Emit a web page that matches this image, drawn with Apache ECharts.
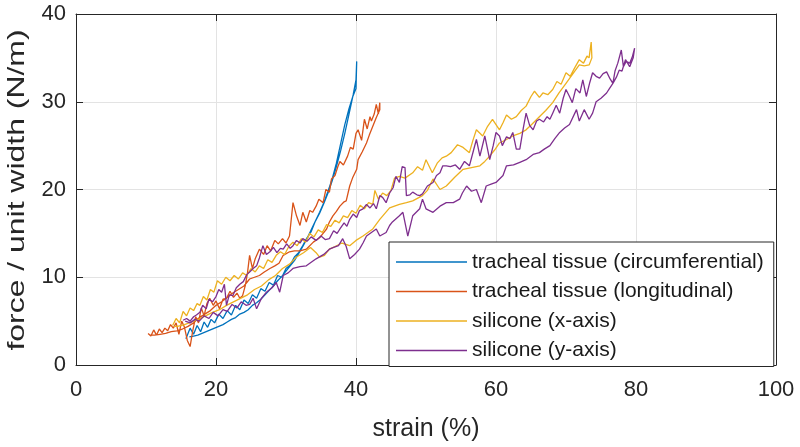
<!DOCTYPE html>
<html>
<head>
<meta charset="utf-8">
<script src="https://cdn.jsdelivr.net/npm/echarts@6/dist/echarts.min.js"></script>
<style>html,body{margin:0;padding:0;background:#fff;}#c{width:800px;height:447px;}</style>
</head>
<body>
<div id="c"></div>
<script>
// ---- data (strain %, force N/m), loading branch then unloading branch ----
const seriesNames = ['tracheal tissue (circumferential)', 'tracheal tissue (longitudinal)', 'silicone (x-axis)', 'silicone (y-axis)'];
const xTicks = [0, 20, 40, 60, 80, 100];
const yTicks = [0, 10, 20, 30, 40];

const circStrain = [15.7,16.3,16.8,17.3,17.8,18.3,18.8,19.3,19.8,20.4,21,21.6,22.2,22.8,23.4,24,24.6,25.2,25.8,26.4,27,27.6,28.2,28.8,29.4,30,30.6,31.2,31.8,32.4,33,33.6,34.2,34.8,35.4,36,36.6,37.2,37.8,38.4,39,39.6,40.0,40.1,
  40.0,39.5,39.0,38.4,37.8,37.2,36.6,36,35.4,34.8,34.2,33.6,33,32.4,31.8,31.2,30.6,30,29.4,28.8,28.2,27.6,27,26.4,25.8,25.2,24.6,24,23.4,22.8,22.2,21.6,21,20.4,19.8,19.2,18.6,18,17.4,16.8,16.2];
const circForce = [3.0,4.2,3.5,4.5,3.8,4.9,4.3,5.2,4.8,5.8,5.3,6.2,5.7,6.8,6.3,7.4,7.0,8.0,7.6,8.7,8.4,9.4,9.1,10.2,10.0,11.0,11.4,12.3,12.8,13.6,14.5,15.2,16.4,17.3,18.4,19.6,21.0,22.6,24.4,26.4,28.6,30.8,32.5,34.6,
  31.5,30.5,29.2,27.4,25.2,23.0,21.2,19.8,18.5,17.4,16.4,15.4,14.4,13.5,12.7,11.9,11.3,10.7,10.1,9.6,9.0,8.5,8.0,7.5,7.1,6.8,6.3,6.0,5.8,5.4,5.2,4.9,4.6,4.4,4.2,4.0,3.8,3.6,3.4,3.3,3.2];

const longStrain = [10.3,10.7,11.1,11.5,11.9,12.3,12.7,13.1,13.5,13.9,14.3,14.7,15.1,15.5,15.9,16.3,16.7,17.1,17.5,17.9,18.3,18.7,19.1,19.6,20.0,20.5,21.0,21.5,22.0,22.5,23.0,23.4,23.8,24.2,24.5,24.8,25.2,25.6,26.2,26.8,27.3,27.8,28.4,28.9,29.5,30.0,30.5,31.0,31.5,32.0,32.4,32.9,33.4,33.8,34.3,34.7,35.3,35.7,36.2,36.5,37.0,37.4,37.7,38.2,38.8,39.2,39.6,40.0,40.3,40.8,41.2,41.6,42.0,42.2,42.6,42.9,43.2,43.4,
  43.4,42.9,42.4,41.9,41.5,40.9,40.3,40.1,39.5,39.1,38.6,38.3,37.7,37.2,36.7,36.2,35.8,35.3,34.8,33.9,32.9,32.0,31.2,30.5,29.6,29.0,28.4,27.7,26.9,26.2,25.5,24.8,24.0,23.2,22.4,21.6,20.8,20.0,19.2,18.4,17.6,16.8,16.0,15.2,14.4,13.6,12.8,12.0,11.2,10.5];
const longForce = [3.6,3.3,4.0,3.4,4.1,3.7,4.2,3.9,4.6,4.2,4.8,3.5,5.0,4.3,2.8,2.1,4.0,5.5,4.8,6.5,5.6,7.0,7.6,6.8,7.3,6.4,7.5,7.6,8.4,7.7,8.2,7.6,7.9,9.1,10.5,12.5,11.0,12.1,13.2,12.6,13.6,13.0,14.2,13.8,14.4,13.9,14.7,18.5,17.0,15.9,17.4,16.3,17.6,17.4,18.1,18.9,18.5,20.0,19.7,21.2,21.6,22.6,23.2,22.8,23.8,24.8,24.6,26.4,26.8,25.6,28.0,26.9,28.3,27.8,28.6,29.7,28.6,29.9,
  29.1,28.2,27.2,26.2,25.3,24.3,23.4,22.3,21.3,20.4,18.7,18.6,18.1,17.5,17.0,16.3,15.5,15.0,14.5,14.0,13.2,13.0,13.0,12.9,12.5,11.6,11.3,11.0,10.6,10.2,10.0,9.8,9.0,8.6,8.2,7.7,7.2,6.8,6.2,5.8,5.4,4.8,4.4,4.1,3.9,3.8,3.6,3.5,3.4,3.4];

const sxStrain = [13.8,14.3,14.8,15.3,15.8,16.3,16.8,17.3,17.7,18.2,18.7,19.2,19.7,20.2,20.8,21.4,22,22.6,23.2,23.8,24.4,25,25.6,26.2,26.8,27.4,28,28.6,29.2,29.8,30.4,31,31.6,32.2,32.8,33.4,34,34.6,35.2,35.8,36.4,37,37.6,38.2,38.8,39.4,40,40.6,41.2,41.8,42.4,42.7,43.2,43.8,44.4,45.0,45.5,46.2,47,48.1,48.8,49.5,50,50.9,51.6,52.3,52.9,53.6,54.5,55.3,56.2,56.7,57.2,58.1,58.8,59.5,60.5,61,61.5,62.2,62.9,63.6,64.3,65,65.5,66.2,66.7,67.4,68.1,68.7,69.3,70,70.6,71.2,71.9,72.5,73,73.3,73.6,
  73.7,73.3,72.6,71.9,71,70,69,68.1,67.1,66.2,65.2,64.3,63.4,62.4,61.5,60.5,59.8,59.1,58.4,57.7,56.5,55.3,54.1,52.9,52,51,50.2,49.5,48.1,47.2,46.2,44.8,43.4,42.4,41,40,39.1,38,37,36.2,35.5,34.8,34.3,33.5,32.5,31.5,30.5,29.5,28.5,27.5,26.5,25.5,24.5,23.5,22.5,21.5,20.5,19.5,18.5,17.5,16.5,15.5,14.5,14];
const sxForce = [4.5,5.3,4.8,6.1,5.6,6.5,6.2,7.0,6.8,7.8,7.4,8.6,8.3,9.6,9.2,10.0,9.6,10.2,9.8,10.5,10.2,11,10.6,11.3,11,12,11.7,12.5,12.9,12.6,13.5,14,13.6,14.4,14,15,14.6,15.4,15.1,16,15.8,16.5,16.2,17,16.8,17.6,17.3,18.2,17.8,18.5,18.3,19.9,18.9,19.6,19.3,19.9,21.3,21.5,21.3,21.9,22.6,22.2,23.4,21.9,23,23.6,23.8,24.2,25.1,24.8,24.2,25.6,26.8,26.1,27.2,28,26.8,27.6,28.5,28,28.3,29,29.5,30.6,31.2,30.5,31,30.8,31.4,32.3,32,33.3,32.9,33.8,34.8,34.4,35.2,35,36.8,
  35,34.2,34.1,34.2,33.2,32.1,31,29.9,29,28.3,27.5,26.8,26.4,26.1,25.7,25.3,24.5,23.8,23.2,22.7,22.5,22.3,21.4,20.4,20,21.2,19.9,19.3,18.7,18.5,18.3,17.9,16.6,15.5,14.7,14.2,13.6,13.9,13.5,13.2,12.5,12.3,12.8,13.4,12.8,12.3,11.5,11,10.2,9.7,9,8.6,8,7.6,7.2,6.8,6.3,6,5.6,5.2,4.9,4.6,4.4,4.4];

const syStrain = [15.3,15.8,16.3,16.8,17.2,17.7,18.1,18.6,19,19.5,20,20.4,20.8,21.2,21.5,21.9,22.4,22.9,23.4,23.9,24.4,24.8,25.3,25.8,26.2,26.7,27.2,27.7,28.2,28.7,29.2,29.6,30.1,30.6,31,31.5,32,32.4,33,33.6,34.3,35,35.6,36.2,36.8,37.3,37.7,38.3,38.7,39.1,39.6,40.1,40.5,41,41.5,42,42.5,42.9,43.4,43.8,44.3,44.8,45.3,45.7,46.2,46.6,47,47.2,47.7,48.1,48.7,49.1,49.5,50.2,51,51.5,52,52.4,52.9,53.5,54.2,54.8,55.5,56.2,56.8,57.2,57.7,58.4,59.1,59.6,60,60.5,60.9,61.5,62,62.4,62.9,63.4,63.9,64.3,64.8,65.3,65.8,66.2,66.8,67.3,67.7,68.1,68.6,69.1,69.6,70,70.5,70.9,71.4,72,72.4,72.9,73.4,73.8,74.3,74.8,75.3,75.8,76.3,76.7,77,77.4,77.9,78.2,78.6,79.1,79.5,79.8,
  79.6,79.1,78.5,78.0,77.6,77.2,76.7,76.2,75.8,75.0,74.3,73.8,73.3,72.6,71.9,71.5,70.5,69.8,69.1,68.4,67.7,66.9,66.2,65.3,64.3,63.4,62.5,61.5,61,60,59.3,58.6,57.9,57.2,56.5,55.8,55.2,54.8,53.9,52.9,52,51,50,49.5,49.1,48.1,47.4,46.7,46.2,45.2,44.8,44.3,43.4,42.9,42.2,41.5,41,40.5,39.8,39.1,38.6,38.1,37.5,36.8,36.2,35.4,34.3,33.6,32.9,32,31,30.3,29.6,29.1,28.6,28,27.2,26.5,25.8,25.3,24.8,24.3,23.6,23,22.3,21.6,21,20.3,19.6,19,18.3,17.6,17,16.3,15.6];
const syForce = [5.1,5.3,5.0,5.5,5.7,6.0,6.8,6.4,7.5,7.2,7.8,8.6,8.3,9.2,6.8,8.0,7.9,8.8,9.2,9.5,10.3,10.6,11.0,11.3,12.2,13.6,12.6,12.9,13.4,12.8,13.3,13.2,13.8,13.3,13.6,14.2,13.9,14.4,14.1,14.6,14.2,14.7,14.3,14.4,15.3,15.0,15.5,16.2,15.8,16.6,17.2,16.8,17.6,17.8,18.3,17.9,18.4,17.8,19.3,19.1,18.5,19.6,20.2,21.5,20.8,22.6,22.5,19.3,19.4,19.7,19.4,19.3,19.5,20.4,20.8,21.6,21.9,22.7,22.7,22.6,22.8,22.3,23.2,22.7,24.5,25.7,23.8,26.1,23.4,25,26.5,26.1,25,26,25.8,26.5,24.6,24.6,27,28.7,27.3,26.8,27.8,28,27.7,28.3,28,28.7,29.6,28.7,30.4,31.4,30.6,29.9,31.5,31,32.5,30.6,32.2,33.3,32.9,32.7,33.2,33.4,32.6,32.1,33.5,34.4,35.9,34.0,34.6,34.4,35.2,36.1,
  35.0,34.0,34.8,33.5,33.6,32.8,32.1,31.5,31.0,30.4,30.0,28.7,28.0,29.1,27.8,29.1,27.4,27.0,26.5,25.8,25.0,24.6,24.2,24.0,23.4,23.1,22.8,22.7,21.6,20.8,20.6,20.4,18.5,20.0,19.8,20.4,19.6,18.9,18.5,18.5,18.1,17.4,17.8,18.9,17.8,17.0,14.7,17.4,17.0,16.3,15.9,15.1,14.7,15.5,15.1,14.7,13.9,13.2,12.6,12.1,13.5,14.4,13.6,13.4,13.2,12.6,12.1,11.7,11.3,11.2,11.0,10.5,10.2,8.3,9.4,8.8,8.3,7.6,6.4,7.6,6.9,6.8,7.2,6.5,6.9,6.1,6.3,5.6,6.0,5.3,5.6,5.0,5.2,4.8,5.0];

const colors = ['#0072BD', '#D95319', '#EDB120', '#7E2F8E'];
const yAxisTitle = 'force / unit width (N/m)';

const zip = (xs, ys) => xs.map((x, i) => [x, ys[i]]);
const seriesData = [zip(circStrain, circForce), zip(longStrain, longForce), zip(sxStrain, sxForce), zip(syStrain, syForce)];

const FONT = "'Liberation Sans', Arial, Helvetica, sans-serif";
const AX = '#262626';

const chart = echarts.init(document.getElementById('c'), null, {renderer: 'canvas'});
const baseX = {
  type: 'value', min: xTicks[0], max: xTicks[xTicks.length - 1], interval: 20,
  axisLine: {show: true, onZero: false, lineStyle: {color: AX, width: 1}},
  axisTick: {show: true, inside: true, length: 7, lineStyle: {color: AX}},
};
const baseY = {
  type: 'value', min: yTicks[0], max: yTicks[yTicks.length - 1], interval: 10,
  axisLine: {show: true, onZero: false, lineStyle: {color: AX, width: 1}},
  axisTick: {show: true, inside: true, length: 7, lineStyle: {color: AX}},
};
chart.setOption({
  animation: false,
  backgroundColor: '#ffffff',
  color: colors,
  textStyle: {fontFamily: FONT},
  grid: {left: 76, right: 24, top: 14, bottom: 80, containLabel: false},
  xAxis: [
    Object.assign({}, baseX, {
      position: 'bottom',
      axisLabel: {show: true, fontSize: 22, color: AX, margin: 14, fontFamily: FONT},
      splitLine: {show: true, lineStyle: {color: '#e3e3e3', width: 1}},
      name: 'strain (%)', nameLocation: 'middle', nameGap: 52,
      nameTextStyle: {fontSize: 25, color: AX, fontFamily: FONT}
    }),
    Object.assign({}, baseX, {
      position: 'top',
      axisLabel: {show: false}, splitLine: {show: false}
    })
  ],
  yAxis: [
    Object.assign({}, baseY, {
      position: 'left',
      axisLabel: {show: true, fontSize: 22, color: AX, margin: 10, fontFamily: FONT},
      splitLine: {show: true, lineStyle: {color: '#e3e3e3', width: 1}}
    }),
    Object.assign({}, baseY, {
      position: 'right',
      axisLabel: {show: false}, splitLine: {show: false}
    })
  ],
  graphic: [{
    type: 'text', x: 17, y: 190, rotation: Math.PI / 2, scaleX: 1.33, silent: true,
    style: {text: yAxisTitle, fontSize: 24, fontFamily: FONT, fill: AX, align: 'center', verticalAlign: 'middle'}
  }],
  legend: {
    show: true, orient: 'vertical', left: 389, top: 242,
    padding: [8, 10, 4, 7], itemGap: 5.5,
    itemWidth: 71, itemHeight: 1.6, icon: 'rect',
    backgroundColor: '#ffffff', borderColor: AX, borderWidth: 1, borderRadius: 0,
    textStyle: {fontSize: 21, color: '#1a1a1a', fontFamily: FONT, lineHeight: 24},
    data: seriesNames
  },
  series: seriesNames.map((n, i) => ({
    name: n, type: 'line', data: seriesData[i],
    xAxisIndex: 0, yAxisIndex: 0,
    symbol: 'none', showSymbol: false, smooth: false,
    lineStyle: {width: 1.3, color: colors[i]},
    itemStyle: {color: colors[i]},
    emphasis: {disabled: true}
  }))
});
</script>
</body>
</html>
